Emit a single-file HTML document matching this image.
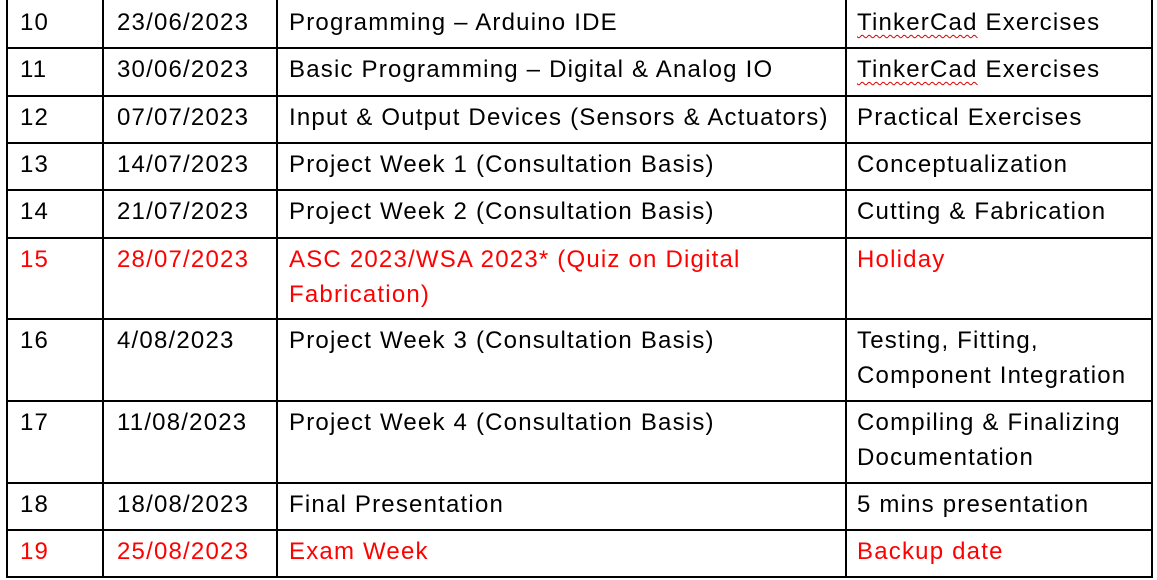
<!DOCTYPE html>
<html><head><meta charset="utf-8"><style>
body{margin:0;width:1157px;height:580px;background:#fff;position:relative;overflow:hidden;font-family:"Liberation Sans",Arial,sans-serif;}
.h{position:absolute;left:6px;width:1146px;height:2px;background:#000;}
.v{position:absolute;top:0;width:2px;height:578px;background:#000;}
.c{position:absolute;font-size:24px;letter-spacing:1.2px;line-height:35px;color:#000;white-space:nowrap;}
.r{color:#ff0000;}
.u{text-decoration:underline wavy #d00;text-decoration-thickness:1px;text-underline-offset:4px;}
</style></head><body>
<div id="grid"></div>
<div id="cells"></div>
<script>
const rowTops=[-2,47,95,142,189,237,318,400,482,529,576];
const colLefts=[6,102,276,845,1151];
const colText=[20,117,289,857];
const rows=[
 ["10","23/06/2023","Programming – Arduino IDE","<span class='u'>TinkerCad</span> Exercises",0],
 ["11","30/06/2023","Basic Programming – Digital &amp; Analog IO","<span class='u'>TinkerCad</span> Exercises",0],
 ["12","07/07/2023","Input &amp; Output Devices (Sensors &amp; Actuators)","Practical Exercises",0],
 ["13","14/07/2023","Project Week 1 (Consultation Basis)","Conceptualization",0],
 ["14","21/07/2023","Project Week 2 (Consultation Basis)","Cutting &amp; Fabrication",0],
 ["15","28/07/2023","ASC 2023/WSA 2023* (Quiz on Digital<br>Fabrication)","Holiday",1],
 ["16","4/08/2023","Project Week 3 (Consultation Basis)","Testing, Fitting,<br>Component Integration",0],
 ["17","11/08/2023","Project Week 4 (Consultation Basis)","Compiling &amp; Finalizing<br>Documentation",0],
 ["18","18/08/2023","Final Presentation","5 mins presentation",0],
 ["19","25/08/2023","Exam Week","Backup date",1]
];
const names=["week-number","date","topic","activity"];
const g=document.getElementById('grid');
rowTops.forEach((t,i)=>{const d=document.createElement('div');d.className='h';d.style.top=t+'px';


g.appendChild(d);});
colLefts.forEach(l=>{const d=document.createElement('div');d.className='v';d.style.left=l+'px';


g.appendChild(d);});
const cc=document.getElementById('cells');
rows.forEach((r,i)=>{for(let j=0;j<4;j++){const d=document.createElement('div');
d.className='c'+(r[4]?' r':'');d.style.left=colText[j]+'px';d.style.top=(Math.max(rowTops[i],0)+5)+'px';d.innerHTML=r[j];


cc.appendChild(d);}});
</script>
</body></html>
